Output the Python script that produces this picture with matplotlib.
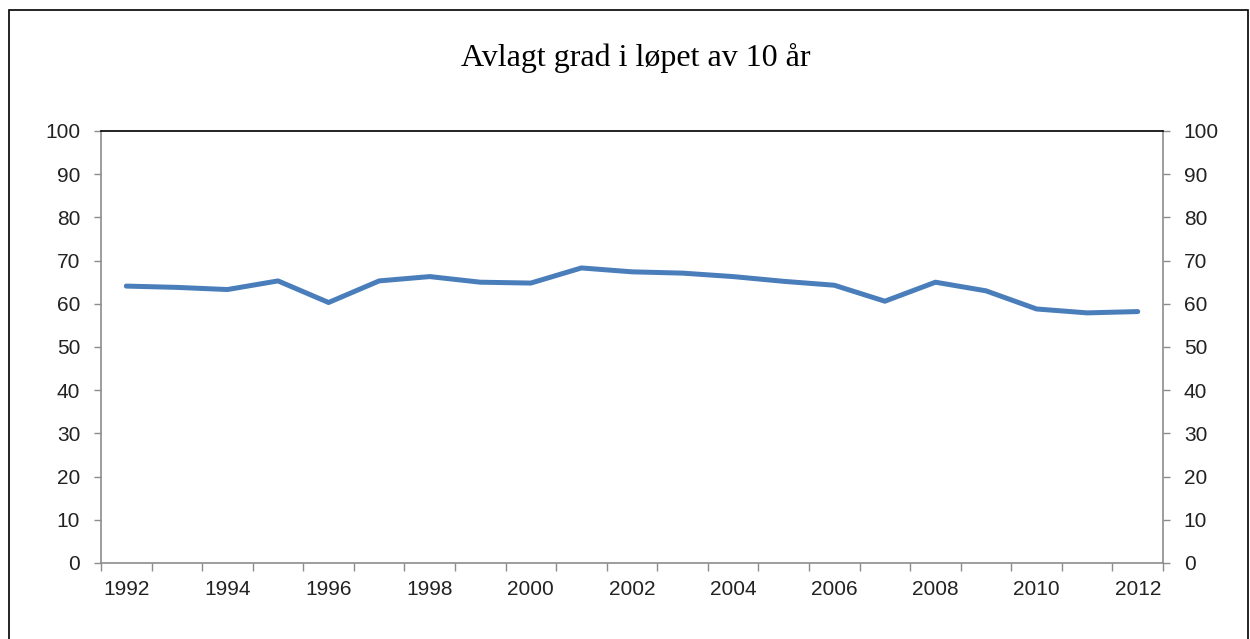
import numpy as np
import matplotlib
matplotlib.use("Agg")
from matplotlib import pyplot as plt
import matplotlib.patches as patches

years = list(range(1992, 2013))
values = [64.1, 63.8, 63.3, 65.3, 60.3, 65.3, 66.3, 65.0, 64.8, 68.3,
          67.4, 67.1, 66.3, 65.2, 64.3, 60.6, 65.0, 63.0, 58.8, 57.9, 58.2]
yticks = list(range(0, 101, 10))
title = "Avlagt grad i løpet av 10 år"

W, H = 1250, 639
fig = plt.figure(figsize=(W / 100, H / 100), dpi=100)
fig.patch.set_facecolor("white")

# outer chart border
fig.add_artist(patches.Rectangle((9 / W, -0.05), 1239 / W, (H - 10) / H + 0.05,
                                 transform=fig.transFigure, fill=False,
                                 edgecolor="black", linewidth=1.2))

left, right, top, bottom = 101, 1163, 131, 563
ax = fig.add_axes([left / W, 1 - bottom / H, (right - left) / W, (bottom - top) / H])

x = np.arange(len(years))
ax.plot(x, values, color="#4a7ebb", linewidth=3.6, solid_joinstyle="round",
        solid_capstyle="round")

ax.set_xlim(-0.5, len(years) - 0.5)
ax.set_ylim(0, 100)

gray = "#8c8c8c"
for s in ["left", "right", "bottom"]:
    ax.spines[s].set_color(gray)
    ax.spines[s].set_linewidth(1.2)
ax.spines["top"].set_color("black")
ax.spines["top"].set_linewidth(1.2)

font = dict(family="Liberation Sans", size=15)

ax.set_yticks(yticks)
ax.set_yticklabels([str(v) for v in yticks], **font, color="#222222")
ax.tick_params(axis="y", which="major", direction="out", length=5, color=gray,
               width=1, pad=10, right=True, labelright=True)

# category axis: ticks between categories, labels every other year
ax.set_xticks(np.arange(-0.5, len(years)))
ax.set_xticklabels([])
ax.tick_params(axis="x", which="major", direction="out", length=6, color=gray, width=1)
ax.set_xticks(x[::2], minor=True)
ax.set_xticklabels([str(y) for y in years[::2]], minor=True, **font, color="#222222")
ax.tick_params(axis="x", which="minor", length=0, pad=12)

fig.text(636 / W, 1 - 58 / H, title, ha="center", va="center",
         family="Liberation Serif", size=23, color="black")

fig.savefig("out.png", dpi=100)
